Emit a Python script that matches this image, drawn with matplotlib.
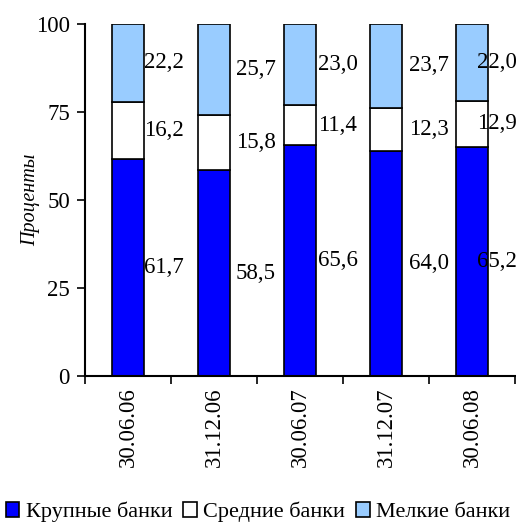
import matplotlib
matplotlib.use("Agg")
import matplotlib.pyplot as plt
import numpy as np

dates = ["30.06.06", "31.12.06", "30.06.07", "31.12.07", "30.06.08"]
large = [61.7, 58.5, 65.6, 64.0, 65.2]
medium = [16.2, 15.8, 11.4, 12.3, 12.9]
small = [22.2, 25.7, 23.0, 23.7, 22.0]
names = ["Крупные банки", "Средние банки", "Мелкие банки"]
colors = ["#0000FF", "#FFFFFF", "#99CCFF"]

# label shift from bar edge (points), per column
shift = [0, 4, 1, 5, -8]

plt.rcParams['font.family'] = ['Liberation Serif', 'DejaVu Serif']
plt.rcParams['font.size'] = 16.5

fig = plt.figure(figsize=(5.16, 5.24), dpi=100)
ax = fig.add_axes([0.165, 0.2824, 0.833, 0.6716])

x = np.arange(len(dates))
w = 0.375
bottom = np.zeros(len(dates))
for vals, c, n in zip([large, medium, small], colors, names):
    vals = np.array(vals)
    ax.bar(x, vals, w, bottom=bottom, color=c, edgecolor="black", linewidth=1.2, label=n)
    for i, v in enumerate(vals):
        ax.annotate(f"{v:.1f}".replace(".", ","), (x[i] + w / 2, bottom[i] + v / 2),
                    xytext=(shift[i], 0), textcoords="offset points",
                    ha="left", va="center")
    bottom += vals

ax.set_xlim(-0.5, len(dates) - 0.5)
ax.set_ylim(0, 100)
ax.set_yticks([0, 25, 50, 75, 100])
ax.set_xticks(x)
ax.set_xticklabels(dates, rotation=90)
ax.set_xticks(np.arange(len(dates) + 1) - 0.5, minor=True)
ax.tick_params(axis="x", which="major", length=0, pad=8)
ax.tick_params(axis="x", which="minor", length=6, width=1.2, direction="out")
ax.tick_params(axis="y", length=6, width=1.2, direction="out", pad=5)
for s in ["top", "right"]:
    ax.spines[s].set_visible(False)
for s in ["left", "bottom"]:
    ax.spines[s].set_linewidth(1.5)

ax.set_ylabel("Проценты", fontstyle="italic", fontsize=14.5)
ax.yaxis.set_label_coords(-0.105, 0.5)

fig.legend(loc="lower center", bbox_to_anchor=(0.5, -0.035), ncol=3, frameon=False,
           fontsize=16, handlelength=0.6, handleheight=0.6, handletextpad=0.3,
           columnspacing=0.5)

fig.savefig("out.png", dpi=100)
